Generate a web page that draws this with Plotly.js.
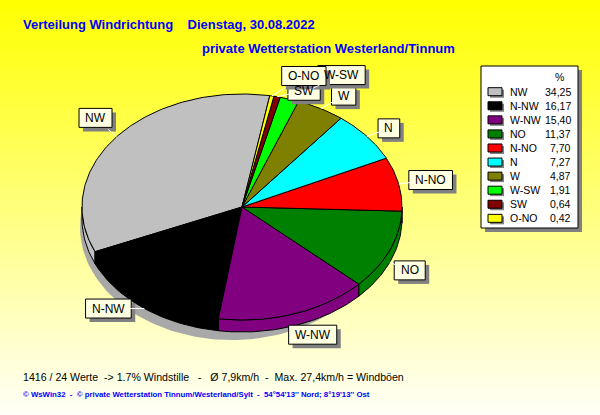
<!DOCTYPE html>
<html><head><meta charset="utf-8">
<script src="https://cdn.plot.ly/plotly-3.0.1.min.js"></script>
<style>html,body{margin:0;padding:0;background:#fff;}</style>
</head><body>
<div id="chart" style="width:600px;height:415px"></div>
<script>
// ---- data ----
const directions = ['NW','N-NW','W-NW','NO','N-NO','N','W','W-SW','SW','O-NO'];
const percentages = [34.25,16.17,15.40,11.37,7.70,7.27,4.87,1.91,0.64,0.42];
const sliceColors = ['#C0C0C0','#000000','#800080','#008000','#FF0000','#00FFFF','#808000','#00FF00','#800000','#FFFF00'];
const titleText = 'Verteilung Windrichtung\u00a0\u00a0\u00a0 Dienstag, 30.08.2022';
const subtitleText = 'private Wetterstation Westerland/Tinnum';
const statsText = '1416 / 24 Werte\u00a0 -> 1.7% Windstille\u00a0\u00a0 -\u00a0\u00a0 Ø 7,9km/h\u00a0 -\u00a0 Max. 27,4km/h = Windböen';
const footerText = '© WsWin32\u00a0 -\u00a0 © private Wetterstation Tinnum/Westerland/Sylt\u00a0 -\u00a0 54°54\'13\'\' Nord; 8°19\'13\'\' Ost';

// ---- layout parameters ----
const W = 600, H = 415;
const cx = 242, cy = 207, rx = 160, ry = 113, depth = 12, startDeg = 80;
const labelOffsets = [[-21,-19],[-36,0],[18,9],[20,8],[32,-4],[22,-8],[23,-13],[52,-24],[27,-6],[32,-20]];
const FONT = 'Liberation Sans, Arial, sans-serif';
const rad = d => d * Math.PI / 180;
const pt = (deg, dy) => [cx + rx * Math.cos(rad(deg)), cy - ry * Math.sin(rad(deg)) + (dy || 0)];

const total = percentages.reduce((a, b) => a + b, 0);
const slices = [];
let acc = startDeg;
percentages.forEach((v, i) => {
  const a1 = acc, a2 = acc + v / total * 360;
  slices.push({a1, a2, mid: (a1 + a2) / 2, i});
  acc = a2;
});

function arc(a1, a2, dy) {
  const n = Math.max(2, Math.ceil(Math.abs(a2 - a1)));
  const xs = [], ys = [];
  for (let k = 0; k <= n; k++) {
    const p = pt(a1 + (a2 - a1) * k / n, dy);
    xs.push(p[0]); ys.push(p[1]);
  }
  return [xs, ys];
}

const traces = [];
// drop shadow
{
  const xs = [], ys = [];
  for (let d = 0; d <= 360; d += 2) {
    xs.push(cx - 10 + (rx - 8) * Math.cos(rad(d)));
    ys.push(cy + depth + 8 - ry * Math.sin(rad(d)));
  }
  traces.push({type:'scatter', mode:'lines', x:xs, y:ys, fill:'toself', fillcolor:'#A8A8A8',
    line:{width:0, color:'#A8A8A8'}, hoverinfo:'skip', showlegend:false});
}
// side walls (front half)
slices.forEach(s => {
  for (let k = -1; k <= 1; k++) {
    const lo = Math.max(s.a1, 180 + 360 * k), hi = Math.min(s.a2, 360 + 360 * k);
    if (hi > lo) {
      const top = arc(lo, hi, 0), bot = arc(hi, lo, depth);
      traces.push({type:'scatter', mode:'lines', x: top[0].concat(bot[0], [top[0][0]]),
        y: top[1].concat(bot[1], [top[1][0]]), fill:'toself', fillcolor: sliceColors[s.i],
        line:{color:'#000', width:1}, hoverinfo:'skip', showlegend:false});
    }
  }
});
// top surfaces
slices.forEach(s => {
  const a = arc(s.a1, s.a2, 0);
  traces.push({type:'scatter', mode:'lines', name: directions[s.i],
    x: [cx].concat(a[0], [cx]), y: [cy].concat(a[1], [cy]),
    fill:'toself', fillcolor: sliceColors[s.i], line:{color:'#000', width:1},
    hoverinfo:'skip', showlegend:false});
});

// background gradient stripes
const shapes = [];
const step = 5;
for (let y = 0; y < H; y += step) {
  const t = (y + step / 2) / H;
  const b = Math.round(248 * t);
  shapes.push({type:'rect', xref:'paper', yref:'paper', x0:0, x1:1, y0:1 - y / H, y1:1 - (y + step + 1) / H,
    fillcolor:`rgb(255,255,${b})`, line:{width:0}, layer:'below'});
}
// legend box
const lg = {x0:481, x1:578, y0:66, y1:228, row0:91.7, rowH:14.07};
shapes.push({type:'rect', xref:'x', yref:'y', x0:lg.x0 + 4, x1:lg.x1 + 4, y0:lg.y0 + 4, y1:lg.y1 + 4, fillcolor:'#808080', line:{width:0}});
shapes.push({type:'rect', xref:'x', yref:'y', x0:lg.x0, x1:lg.x1, y0:lg.y0, y1:lg.y1, fillcolor:'#FFFFFF', line:{color:'#000', width:1}});

const annotations = [];
const fontLegend = {family:FONT, size:10.5, color:'#000'};
const fontLabel = {family:FONT, size:12, color:'#000'};
directions.forEach((d, i) => {
  const ry0 = lg.row0 + i * lg.rowH;
  shapes.push({type:'rect', xref:'x', yref:'y', x0:490, x1:504, y0:ry0 - 2, y1:ry0 + 6, fillcolor:'#808080', line:{width:0}});
  shapes.push({type:'rect', xref:'x', yref:'y', x0:488, x1:502, y0:ry0 - 4, y1:ry0 + 4, fillcolor:sliceColors[i], line:{color:'#000', width:1}});
  annotations.push({xref:'x', yref:'y', x:508, y:ry0, text:d, showarrow:false, xanchor:'left', yanchor:'middle', font:fontLegend});
  annotations.push({xref:'x', yref:'y', x:573, y:ry0, text:percentages[i].toFixed(2).replace('.', ','), showarrow:false, xanchor:'right', yanchor:'middle', font:fontLegend});
});
annotations.push({xref:'x', yref:'y', x:559, y:77, text:'%', showarrow:false, xanchor:'center', yanchor:'middle', font:fontLegend});

// slice labels: boxes (with shadows) as shapes, text as annotations with leader line
const ctx = document.createElement('canvas').getContext('2d');
ctx.font = '12px "Liberation Sans"';
slices.forEach(s => {
  const sinm = Math.sin(rad(s.mid));
  const p = pt(s.mid, sinm < 0 ? depth : 0);
  const off = labelOffsets[s.i];
  const bx = p[0] + off[0], by = p[1] + off[1];
  const bw = ctx.measureText(directions[s.i]).width + 13, bh = 19;
  shapes.push({type:'rect', xref:'x', yref:'y', x0:bx - bw / 2 + 4, x1:bx + bw / 2 + 4, y0:by - bh / 2 + 4, y1:by + bh / 2 + 4,
    fillcolor:'#808080', line:{width:0}});
  shapes.push({type:'rect', xref:'x', yref:'y', x0:bx - bw / 2, x1:bx + bw / 2, y0:by - bh / 2, y1:by + bh / 2,
    fillcolor:'#FFFFE1', line:{color:'#000', width:1}});
  annotations.push({xref:'x', yref:'y', x:p[0], y:p[1], ax:off[0], ay:off[1], text:directions[s.i],
    showarrow:true, arrowcolor:'#FFFFFF', arrowwidth:1, arrowhead:0, standoff:0,
    bordercolor:'rgba(0,0,0,0)', borderwidth:1, borderpad:4, font:fontLabel});
});

// texts
annotations.push({xref:'x', yref:'y', x:200, y:48, text:subtitleText, showarrow:false, xanchor:'left', yanchor:'middle',
  font:{family:FONT, size:13, color:'#0000FF', weight:'bold'}});
annotations.push({xref:'x', yref:'y', x:21, y:377, text:statsText, showarrow:false, xanchor:'left', yanchor:'middle',
  font:{family:FONT, size:10.6, color:'#000'}});
annotations.push({xref:'x', yref:'y', x:21, y:394, text:footerText, showarrow:false, xanchor:'left', yanchor:'middle',
  font:{family:FONT, size:7.8, color:'#0000FF', weight:'bold'}});

const layout = {
  width: W, height: H,
  margin: {l:0, r:0, t:0, b:0, pad:0},
  paper_bgcolor: '#FFFFF8', plot_bgcolor: 'rgba(0,0,0,0)',
  showlegend: false,
  title: {text: titleText, x: 23 / W, xanchor: 'left', xref: 'paper', y: 1 - 24 / H, yref: 'paper', yanchor: 'middle',
    font: {family:FONT, size:13, color:'#0000FF', weight:'bold'}},
  xaxis: {range:[0, W], visible:false, fixedrange:true},
  yaxis: {range:[H, 0], visible:false, fixedrange:true},
  shapes: shapes,
  annotations: annotations
};
Plotly.newPlot('chart', traces, layout, {staticPlot:true, displayModeBar:false});
</script>
</body></html>
